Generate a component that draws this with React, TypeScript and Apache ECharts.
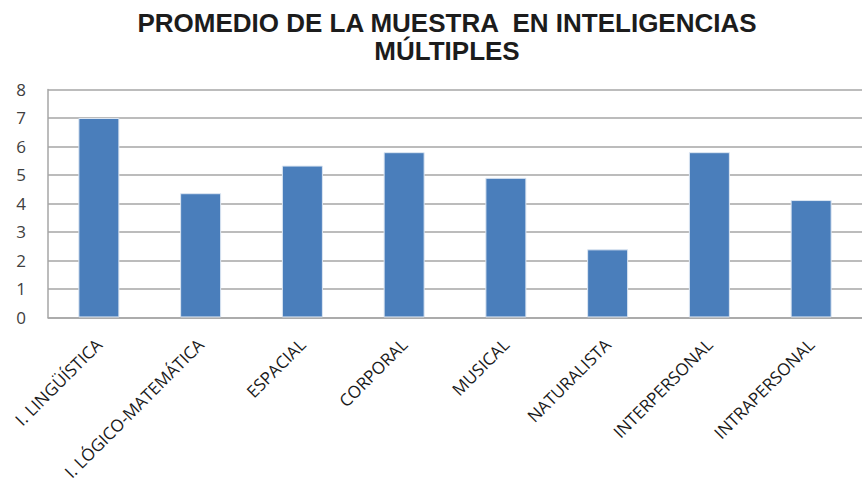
import React, { useEffect, useRef } from "react";
import * as echarts from "echarts";

const categories = [
  "I. LINGÜÍSTICA",
  "I. LÓGICO-MATEMÁTICA",
  "ESPACIAL",
  "CORPORAL",
  "MUSICAL",
  "NATURALISTA",
  "INTERPERSONAL",
  "INTRAPERSONAL",
];
const values = [7.0, 4.36, 5.33, 5.8, 4.9, 2.39, 5.8, 4.12];
const titleLines = ["PROMEDIO DE LA MUESTRA  EN INTELIGENCIAS", "MÚLTIPLES"];

export default function App() {
  const ref = useRef<HTMLDivElement>(null);
  useEffect(() => {
    if (!ref.current) return;
    const chart = echarts.init(ref.current, null, { renderer: "svg" });
    chart.setOption({
      animation: false,
      backgroundColor: "#ffffff",
      title: {
        text: titleLines.join("\n"),
        left: 442,
        top: 4,
        textAlign: "center",
        textStyle: {
          fontFamily: "Liberation Sans",
          fontWeight: "bold",
          fontSize: 26,
          lineHeight: 28,
          color: "#1c1c1c",
        },
      },
      grid: { left: 48, top: 89.5, width: 821, height: 228, containLabel: false },
      xAxis: {
        type: "category",
        data: categories,
        axisLine: { show: true, lineStyle: { color: "#a6a6a6", width: 1.5 } },
        axisTick: { show: false },
        axisLabel: {
          rotate: 45,
          interval: 0,
          margin: 24,
          fontFamily: "Open Sans",
          fontSize: 17,
          color: "#1a1a1a",
        },
      },
      yAxis: {
        type: "value",
        min: 0,
        max: 8,
        interval: 1,
        axisLine: { show: true, lineStyle: { color: "#a6a6a6", width: 1.5 } },
        axisTick: { show: false },
        splitLine: { show: true, lineStyle: { color: "#a6a6a6", width: 1.5 } },
        axisLabel: {
          margin: 22,
          fontFamily: "Open Sans",
          fontSize: 17,
          color: "#404040",
        },
      },
      series: [
        {
          type: "bar",
          data: values,
          barWidth: 41,
          itemStyle: { color: "#4a7ebb", borderColor: "#dce6f2", borderWidth: 1 },
        },
      ],
    });
    return () => chart.dispose();
  }, []);
  return (
    <div
      ref={ref}
      style={{ position: "fixed", left: 0, top: 0, width: 862, height: 483 }}
    />
  );
}
